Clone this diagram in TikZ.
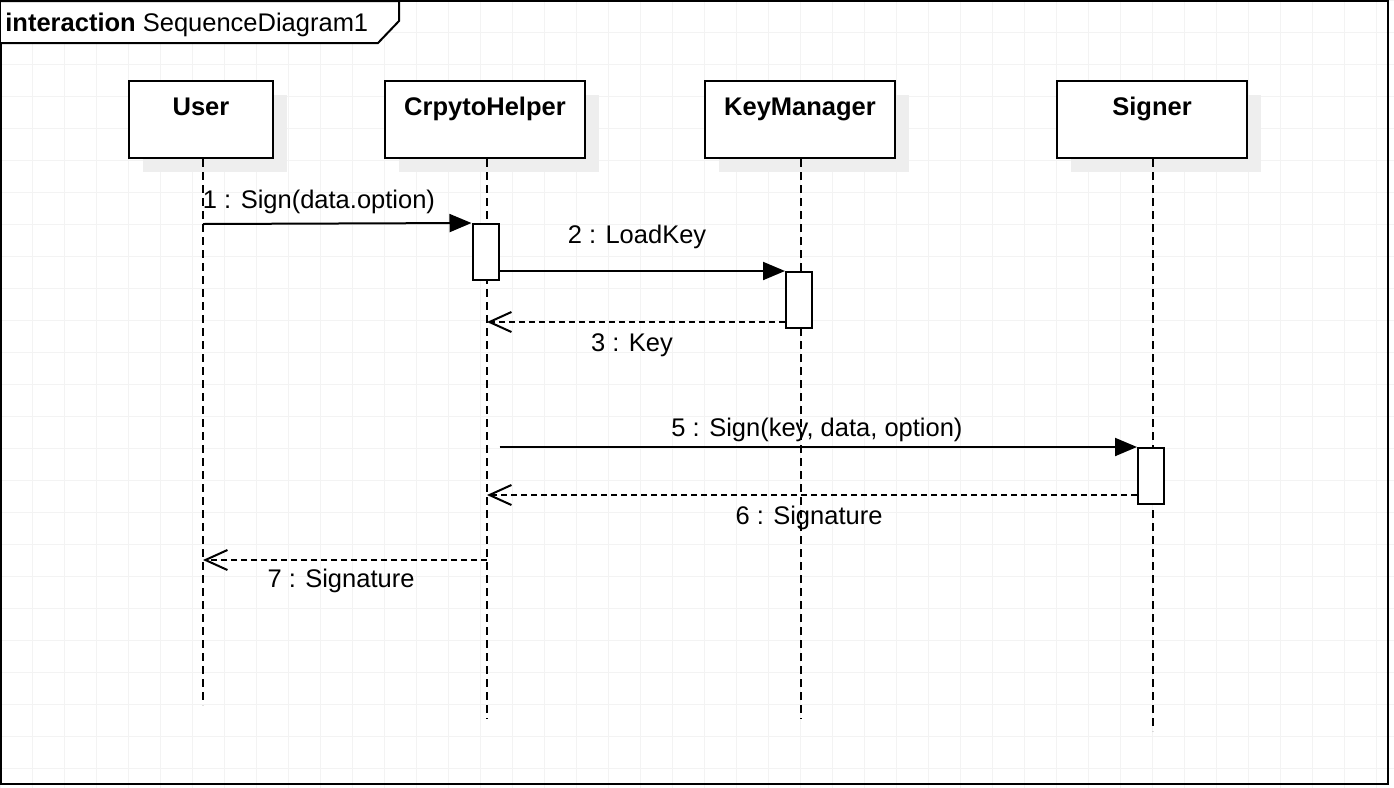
\documentclass[tikz,border=0pt]{standalone}
\usepackage{fontspec}
\setmainfont{Liberation Sans}
\usetikzlibrary{arrows.meta, shadows}
\definecolor{gridgray}{RGB}{243, 243, 243}
\definecolor{shadowgray}{RGB}{238, 238, 238}

\begin{document}
\begin{tikzpicture}[x=0.5pt, y=-0.5pt, font=\fontsize{12.75}{15}\selectfont,
    lifebox/.style={draw, line width=1pt, fill=white, anchor=north west, inner sep=0pt,
       text height=17pt, text depth=21.5pt, font=\fontsize{12.75}{15}\selectfont\bfseries,
       drop shadow={shadow xshift=7pt, shadow yshift=-7pt, fill=shadowgray, opacity=1}},
    activation/.style={draw, line width=1pt, fill=white, minimum width=13pt,
       minimum height=28pt, inner sep=0pt},
    lifeline/.style={line width=1pt, dash pattern=on 4pt off 2.5pt},
    call/.style={line width=1pt, -{Triangle[length=11pt, width=9pt]}},
    reply/.style={line width=1pt, dash pattern=on 3pt off 2pt,
       -{Straight Barb[length=11pt, width=10pt]}},
    msglabel/.style={anchor=base, inner sep=0pt}]
        \useasboundingbox (0,0) rectangle (1394,788);
        % Grid
        \draw[gridgray, line width=0.5pt, step=16pt] (0,0) grid (1394,788);
        % Frame
        \draw[line width=1.2pt] (1,1) rectangle (1388,784);
        \draw[line width=1pt, fill=white] (1,1) -- (399,1) -- (399,21) -- (378,43) -- (1,43);
        \node[anchor=base west, inner sep=0pt] (frame) at (5,31)
              {\textbf{interaction} SequenceDiagram1};
        % Lifelines
        \node[lifebox, minimum width=72pt] (user) at (128,80) {User};
        \node[lifebox, minimum width=100pt] (helper) at (384,80) {CrpytoHelper};
        \node[lifebox, minimum width=95pt] (keymgr) at (704,80) {KeyManager};
        \node[lifebox, minimum width=95pt] (signer) at (1056,80) {Signer};
        \coordinate (userend) at (203,705);
        \coordinate (helperend) at (487,719);
        \coordinate (keymgrend) at (801,719);
        \coordinate (signerend) at (1153,731);
        \draw[lifeline] (user.south -| userend) -- (userend);
        \draw[lifeline] (helper.south -| helperend) -- (helperend);
        \draw[lifeline] (keymgr.south -| keymgrend) -- (keymgrend);
        \draw[lifeline] (signer.south -| signerend) -- (signerend);
        % Activations
        \node[activation] (act1) at (485.5,252) {};
        \node[activation] (act2) at (799,300) {};
        \node[activation] (act3) at (1151,476) {};
        % Messages
        \coordinate (m1) at (203,224);
        \coordinate (m3) at (487,322);
        \coordinate (m6) at (487,495);
        \coordinate (m7a) at (487,560);
        \coordinate (m7b) at (203,560);
        \draw[call] (m1) -- (act1.north west);
        \draw[call] (act2.north west -| act1.east) -- (act2.north west);
        \draw[reply] (act2.west |- m3) -- (m3);
        \draw[call] (act3.north west -| act1.east) -- (act3.north west);
        \draw[reply] (act3.west |- m6) -- (m6);
        \draw[reply] (m7a) -- (m7b);
        \node[msglabel] (l1) at (319,208) {1 : Sign(data.option)};
        \node[msglabel] (l2) at (637,243) {2 : LoadKey};
        \node[msglabel] (l3) at (632,351) {3 : Key};
        \node[msglabel] (l5) at (817,436) {5 : Sign(key, data, option)};
        \node[msglabel] (l6) at (809,524) {6 : Signature};
        \node[msglabel] (l7) at (341,587) {7 : Signature};
      \end{tikzpicture}
\end{document}
